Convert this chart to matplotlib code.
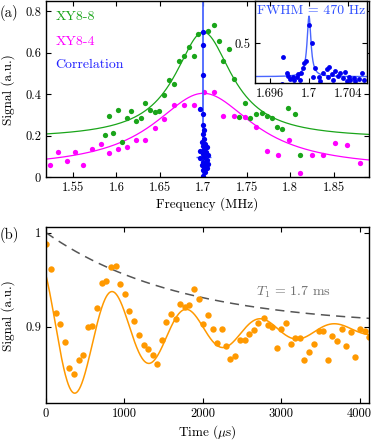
import matplotlib
matplotlib.use('Agg')
import matplotlib.pyplot as plt
import numpy as np
from matplotlib.ticker import FuncFormatter

plt.rcParams['font.family'] = ['cmr10', 'DejaVu Serif']
plt.rcParams['mathtext.fontset'] = 'cm'
plt.rcParams['axes.formatter.use_mathtext'] = True
plt.rcParams['axes.unicode_minus'] = False

# ---- panel (a): spectra ----
xy88_freq = [1.5867, 1.5916, 1.5962, 1.6020, 1.6066, 1.6120, 1.6169, 1.6227, 1.6277, 1.6330,
             1.6384, 1.6442, 1.6488, 1.6549, 1.6603, 1.6661, 1.6715, 1.6772, 1.6830, 1.6887,
             1.6937, 1.7055, 1.7121, 1.7182, 1.7228, 1.7297, 1.7354, 1.7412, 1.7478, 1.7535,
             1.7604, 1.7670, 1.7727, 1.7792, 1.7849, 1.7907, 1.7976, 1.8053, 1.8110]
xy88_sig = [0.205, 0.296, 0.213, 0.325, 0.171, 0.285, 0.322, 0.271, 0.288, 0.356,
            0.324, 0.315, 0.319, 0.397, 0.468, 0.450, 0.559, 0.585, 0.630, 0.585,
            0.689, 0.705, 0.732, 0.655, 0.561, 0.620, 0.473, 0.293, 0.359, 0.288,
            0.304, 0.308, 0.296, 0.285, 0.243, 0.232, 0.335, 0.304, 0.107]

xy84_freq = [1.5234, 1.5329, 1.5426, 1.5518, 1.5613, 1.5717, 1.5817, 1.5916, 1.6020, 1.6123,
             1.6227, 1.6330, 1.6442, 1.6549, 1.6661, 1.6772, 1.6887, 1.7006, 1.7121, 1.7228,
             1.7354, 1.7478, 1.7604, 1.7727, 1.7854, 1.7984, 1.8110, 1.8245, 1.8372, 1.8513,
             1.8655, 1.8801]
xy84_sig = [0.059, 0.122, 0.077, 0.122, 0.061, 0.135, 0.162, 0.115, 0.135, 0.147,
            0.181, 0.181, 0.237, 0.280, 0.348, 0.348, 0.348, 0.412, 0.412, 0.295,
            0.295, 0.293, 0.243, 0.128, 0.107, 0.178, 0.021, 0.107, 0.107, 0.165,
            0.155, 0.067]

corr_freq = [1.6991, 1.6991, 1.6991, 1.6960, 1.6991, 1.6991, 1.7006, 1.6991, 1.7006, 1.6979,
             1.7017, 1.6991, 1.7037, 1.7006, 1.6960, 1.7029, 1.6991, 1.7055, 1.7006, 1.6960,
             1.7037, 1.6991, 1.7017, 1.7055, 1.6979, 1.7006, 1.7037, 1.6991, 1.7017, 1.6991]
corr_sig = [0.702, 0.637, 0.495, 0.328, 0.304, 0.251, 0.227, 0.208, 0.184, 0.171,
            0.160, 0.149, 0.144, 0.133, 0.128, 0.120, 0.112, 0.107, 0.098, 0.091,
            0.085, 0.075, 0.069, 0.064, 0.059, 0.051, 0.043, 0.037, 0.027, 0.005]
corr_mean = 0.098
corr_xerr = 0.0085

# inset (zoom on correlation peak)
inset_freq = [1.69720, 1.69736, 1.69771, 1.69788, 1.69805, 1.69833, 1.69849, 1.69874, 1.69890, 1.69908,
              1.69915, 1.69935, 1.69949, 1.69970, 1.70003, 1.70028, 1.70038, 1.70062, 1.70106, 1.70113,
              1.70147, 1.70182, 1.70198, 1.70208, 1.70233, 1.70249, 1.70267, 1.70290, 1.70318, 1.70342,
              1.70369, 1.70387, 1.70403, 1.70420, 1.70454, 1.70472, 1.70506, 1.70540, 1.70557]
inset_sig = [0.077, 0.354, 0.194, 0.160, 0.132, 0.153, 0.118, 0.146, 0.181, 0.118,
             0.194, 0.240, 0.292, 0.319, 0.690, 0.506, 0.146, 0.240, 0.153, 0.108,
             0.194, 0.230, 0.153, 0.257, 0.181, 0.118, 0.212, 0.160, 0.188, 0.136,
             0.205, 0.108, 0.153, 0.118, 0.136, 0.108, 0.126, 0.188, 0.118]

# Lorentzian fit parameters (center, amplitude, HWHM, offset)
fit_xy88 = (1.700, 0.515, 0.040, 0.185)
fit_xy84 = (1.700, 0.365, 0.070, 0.040)
fit_corr = (1.700, 0.630, 0.000235, 0.153)

# ---- panel (b): time trace ----
time_us = [0, 64, 124, 179, 239, 298, 358, 418, 473, 537,
           592, 652, 712, 771, 831, 891, 946, 1006, 1065, 1125,
           1184, 1244, 1300, 1359, 1419, 1478, 1537, 1593, 1653, 1708,
           1768, 1827, 1887, 1947, 2006, 2066, 2125, 2181, 2240, 2300,
           2351, 2415, 2471, 2534, 2594, 2649, 2709, 2777, 2828, 2888,
           2948, 3003, 3063, 3122, 3182, 3237, 3297, 3357, 3416, 3476,
           3536, 3591, 3651, 3710, 3770, 3830, 3889, 3945, 4004, 4064, 4124]
time_sig = [0.9877, 0.9617, 0.9149, 0.9029, 0.8834, 0.8557, 0.8500, 0.8649, 0.8699, 0.8994,
            0.9004, 0.9196, 0.9462, 0.9486, 0.9635, 0.9649, 0.9457, 0.9348, 0.9167, 0.9064,
            0.8915, 0.8809, 0.8760, 0.8699, 0.8600, 0.8862, 0.9050, 0.9132, 0.9082, 0.9245,
            0.9210, 0.9228, 0.9398, 0.9295, 0.9029, 0.9124, 0.8980, 0.8823, 0.8975, 0.8798,
            0.8653, 0.8688, 0.8859, 0.8859, 0.8922, 0.8965, 0.9043, 0.9090, 0.9018, 0.8994,
            0.8770, 0.8980, 0.9043, 0.8813, 0.8877, 0.8883, 0.8646, 0.8727, 0.8813, 0.8957,
            0.8954, 0.8646, 0.8901, 0.8848, 0.8980, 0.8798, 0.8947, 0.8681, 0.8980, 0.8954, 0.8894]

# damped oscillation fit: offset, offset step, amplitude, decay (us), period (us), phase
osc_fit = (0.897, 0.008, 0.079, 1500.0, 945.0, 0.595)
# T1 envelope: floor, amplitude, T1 (us)
t1_fit = (0.900, 0.100, 1700.0)

green = '#1aa51a'
magenta = '#ff00ff'
blue = '#0000f0'
lblue = '#4a66ff'
orange = '#ff9900'


def lorentz(x, p):
    x0, a, g, b = p
    return b + a / (1 + ((x - x0) / g) ** 2)


fig = plt.figure(figsize=(3.73, 4.42), dpi=100)
ax1 = fig.add_axes([0.1233, 0.5989, 0.866, 0.3988])
ax2 = fig.add_axes([0.1233, 0.0876, 0.866, 0.3982])
axin = fig.add_axes([0.6836, 0.8129, 0.3003, 0.1848])

# (a)
xf = np.linspace(1.5, 1.9, 600)
ax1.plot(xf, lorentz(xf, fit_xy88), color=green, lw=0.9)
ax1.plot(xf, lorentz(xf, fit_xy84), color=magenta, lw=0.9)
ax1.plot(xy88_freq, xy88_sig, 'o', color=green, ms=3.8, mec='none')
ax1.plot(xy84_freq, xy84_sig, 'o', color=magenta, ms=3.8, mec='none')
ax1.axvline(1.7, color=lblue, lw=1.3)
ax1.errorbar([1.7], [corr_mean], xerr=[corr_xerr], fmt='none', ecolor=lblue, elinewidth=1.0)
ax1.plot(corr_freq, corr_sig, 'o', color=blue, ms=3.8, mec='none')

ax1.set_xlim(1.519, 1.8905)
ax1.set_ylim(0, 0.85)
ax1.set_xticks([1.55, 1.6, 1.65, 1.7, 1.75, 1.8, 1.85])
ax1.set_yticks([0, 0.2, 0.4, 0.6, 0.8])
fmt = FuncFormatter(lambda v, p: '%g' % v)
ax1.xaxis.set_major_formatter(fmt)
ax1.yaxis.set_major_formatter(fmt)
ax1.set_xlabel('Frequency (MHz)', fontsize=9.5, labelpad=2)
ax1.set_ylabel('Signal (a.u.)', fontsize=9.5)
ax1.yaxis.set_label_coords(-0.095, 0.5)

ax1.text(0.03, 0.91, 'XY8-8', color=green, fontsize=10, transform=ax1.transAxes, va='center')
ax1.text(0.03, 0.765, 'XY8-4', color=magenta, fontsize=10, transform=ax1.transAxes, va='center')
ax1.text(0.03, 0.64, 'Correlation', color='#2020ff', fontsize=10, transform=ax1.transAxes, va='center')

# inset
xi = np.linspace(1.694, 1.707, 800)
axin.plot(xi, lorentz(xi, fit_corr), color=lblue, lw=1.0)
axin.plot(inset_freq, inset_sig, 'o', color=blue, ms=3.5, mec='none')
axin.set_xlim(1.6945, 1.7059)
axin.set_ylim(0.09, 0.94)
axin.set_xticks([1.696, 1.7, 1.704])
axin.set_yticks([0.5])
axin.xaxis.set_major_formatter(fmt)
axin.yaxis.set_major_formatter(fmt)
axin.text(0.5, 0.88, 'FWHM = 470 Hz', color='#3050ff', fontsize=10,
          transform=axin.transAxes, ha='center', va='center')

# (b)
tf = np.linspace(0, 4200, 800)
c0, c1, a, tau, per, ph = osc_fit
ax2.plot(tf, c0 - c1 * np.exp(-tf / tau) + a * np.exp(-tf / tau) * np.cos(2 * np.pi * tf / per + ph),
         color=orange, lw=1.1)
f0, f1, t1 = t1_fit
ax2.plot(tf, f0 + f1 * np.exp(-tf / t1), color='#555555', lw=1.1, dashes=(6, 4))
ax2.plot(time_us, time_sig, 'o', color=orange, ms=4.6, mec='none')
ax2.text(2680, 0.937, r'$T_1$ = 1.7 ms', color='#707070', fontsize=10, va='center')

ax2.set_xlim(0, 4120)
ax2.set_ylim(0.8185, 1.0057)
ax2.set_xticks([0, 1000, 2000, 3000, 4000])
ax2.set_yticks([0.9, 1.0])
ax2.xaxis.set_major_formatter(fmt)
ax2.yaxis.set_major_formatter(fmt)
ax2.set_xlabel(r'Time ($\mu$s)', fontsize=9.5, labelpad=2)
ax2.set_ylabel('Signal (a.u.)', fontsize=9.5)
ax2.yaxis.set_label_coords(-0.095, 0.5)

for ax in (ax1, ax2, axin):
    ax.tick_params(direction='in', top=True, right=True, labelsize=9, length=3.5, width=0.8)
    for s in ax.spines.values():
        s.set_linewidth(1.0)

fig.text(0.0, 1 - 13 / 442, '(a)', fontsize=10.5, va='center')
fig.text(0.0, 1 - 235 / 442, '(b)', fontsize=10.5, va='center')

fig.savefig('out.png', dpi=100)
